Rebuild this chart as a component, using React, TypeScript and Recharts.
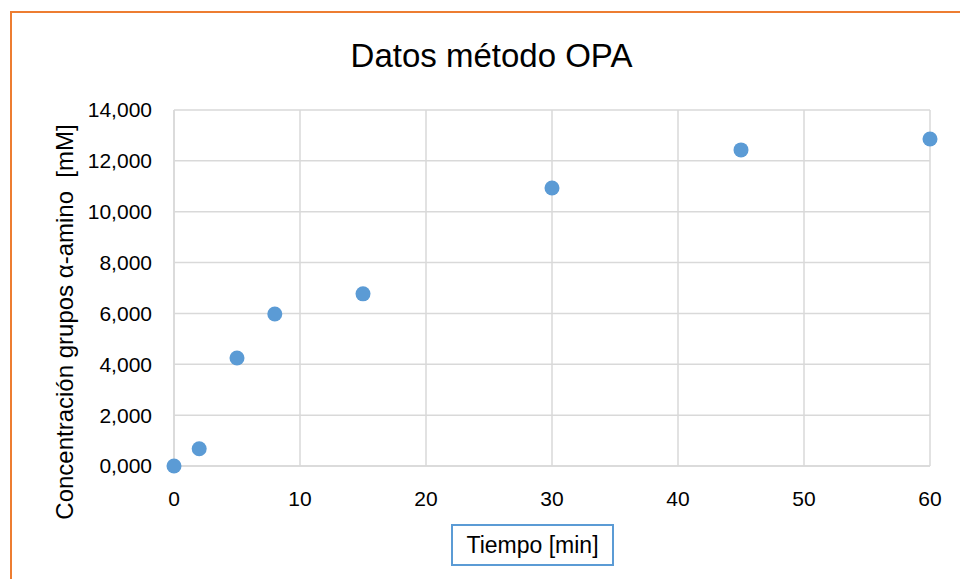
import React from "react"
import { ScatterChart, Scatter, XAxis, YAxis, CartesianGrid } from "recharts"

// Tiempo de hidrólisis (min) y concentración de grupos α-amino (mM)
const tiempos = [0, 2, 5, 8, 15, 30, 45, 60]
const concentraciones = [0, 0.68, 4.25, 5.98, 6.77, 10.93, 12.43, 12.86]

const xTicks = [0, 10, 20, 30, 40, 50, 60]
const yTicks = [0, 2, 4, 6, 8, 10, 12, 14]

const titulo = "Datos método OPA"
const ejeX = "Tiempo [min]"
const ejeY = "Concentración grupos α-amino  [mM]"

const FONT = "'Liberation Sans', Arial, sans-serif"
const AZUL = "#5b9bd5"
const NARANJA = "#ed7d31"

const datos = tiempos.map((t, i) => ({ t, c: concentraciones[i] }))

const formatoY = (v: number) => v.toFixed(3).replace(".", ",")

const Punto = (props: any) => {
    const { cx, cy } = props
    if (cx == null || cy == null) return null
    return <circle cx={cx} cy={cy} r={7.5} fill={AZUL} />
}

const EtiquetaY = () => (
    <text
        x={64}
        y={322}
        transform="rotate(-90 64 322)"
        textAnchor="middle"
        dominantBaseline="central"
        fontSize={24}
        fill="#000"
        fontFamily={FONT}
        style={{ whiteSpace: "pre" }}
    >
        {ejeY}
    </text>
)

export default function App() {
    return (
        <div
            style={{
                position: "absolute",
                left: 0,
                top: 0,
                width: 960,
                height: 579,
                overflow: "hidden",
                background: "#fff",
                fontFamily: FONT,
            }}
        >
            <div
                style={{
                    position: "absolute",
                    left: 10,
                    top: 11,
                    width: 1000,
                    height: 1000,
                    border: `2px solid ${NARANJA}`,
                }}
            />
            <div
                style={{
                    position: "absolute",
                    left: 0,
                    width: 983,
                    top: 36,
                    textAlign: "center",
                    fontSize: 33,
                    lineHeight: "40px",
                    color: "#000",
                }}
            >
                {titulo}
            </div>
            <div style={{ position: "absolute", left: 0, top: 0 }}>
                <ScatterChart
                    width={960}
                    height={579}
                    margin={{ top: 110, right: 30, bottom: 73, left: 74 }}
                >
                    <CartesianGrid stroke="#d9d9d9" strokeWidth={1.5} />
                    <XAxis
                        type="number"
                        dataKey="t"
                        domain={[0, 60]}
                        ticks={xTicks}
                        height={40}
                        axisLine={{ stroke: "#d9d9d9", strokeWidth: 1.5 }}
                        tickLine={false}
                        tickSize={0}
                        tickMargin={25}
                        tick={{ fill: "#000", fontSize: 21, fontFamily: FONT }}
                    />
                    <YAxis
                        type="number"
                        dataKey="c"
                        domain={[0, 14]}
                        ticks={yTicks}
                        width={100}
                        axisLine={{ stroke: "#d9d9d9", strokeWidth: 1.5 }}
                        tickLine={false}
                        tickSize={0}
                        tickMargin={22}
                        tickFormatter={formatoY}
                        tick={{ fill: "#000", fontSize: 21, fontFamily: FONT }}
                        label={{ content: EtiquetaY }}
                    />
                    <Scatter data={datos} fill={AZUL} shape={Punto} isAnimationActive={false} />
                </ScatterChart>
            </div>
            <div
                style={{
                    position: "absolute",
                    left: 451,
                    top: 524,
                    width: 159,
                    height: 38,
                    border: `2px solid ${AZUL}`,
                    textAlign: "center",
                    fontSize: 23,
                    lineHeight: "38px",
                    color: "#000",
                }}
            >
                {ejeX}
            </div>
        </div>
    )
}
